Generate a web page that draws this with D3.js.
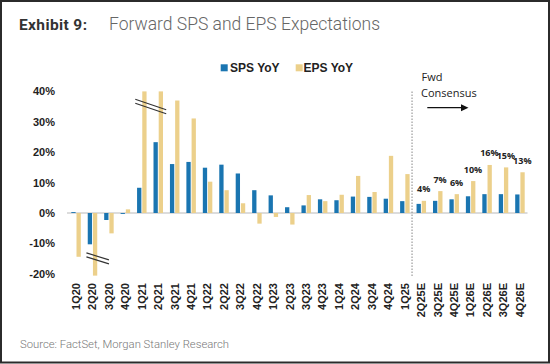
<!DOCTYPE html>
<html><head><meta charset="utf-8">
<script src="https://cdn.jsdelivr.net/npm/d3@7"></script>
<style>body{margin:0;background:#fff}svg{display:block}</style>
</head><body>
<svg id="c" width="550" height="364"></svg>
<script>
const categories = ["1Q20","2Q20","3Q20","4Q20","1Q21","2Q21","3Q21","4Q21","1Q22","2Q22","3Q22","4Q22","1Q23","2Q23","3Q23","4Q23","1Q24","2Q24","3Q24","4Q24","1Q25","2Q25E","3Q25E","4Q25E","1Q26E","2Q26E","3Q26E","4Q26E"];
const spsYoY = [0.3,-10.3,-2.3,-0.3,8.3,23.3,16.1,16.8,14.9,15.9,13.0,7.5,5.8,1.9,2.5,4.5,4.2,5.4,5.3,4.7,3.9,3.0,4.0,4.5,5.5,6.2,6.2,6.1];
const epsYoY = [-14.4,-20.6,-6.7,1.2,40,40,37.0,31.1,10.3,7.5,3.2,-3.5,-1.3,-3.8,5.9,3.9,6.0,12.2,6.9,18.8,12.8,4.0,7.2,6.2,10.5,15.8,15.0,13.4];
const fwdLabels = ["","","","","","","","","","","","","","","","","","","","","","4%","7%","6%","10%","16%","15%","13%"];
const yTicks = [-20,-10,0,10,20,30,40];
const seriesNames = ["SPS YoY","EPS YoY"];
const colors = ["#1a75b1","#ecd08b"];

const svg = d3.select("#c");
// frame
svg.append("rect").attr("x",1).attr("y",1).attr("width",548).attr("height",361.5)
  .attr("fill","none").attr("stroke","#2b2b2b").attr("stroke-width",2);

// title
svg.append("text").attr("x",19).attr("y",30).attr("font-family","Roboto").attr("font-weight","bold")
  .attr("font-size",15.5).attr("fill","#333").attr("textLength",68).text("Exhibit 9:");
svg.append("text").attr("x",109).attr("y",30).attr("font-family","Roboto").attr("font-weight",300)
  .attr("font-size",17.5).attr("fill","#666").text("Forward SPS and EPS Expectations");

const x = d3.scalePoint().domain(categories).range([76, 519.9]);
const y = d3.scaleLinear().domain([-20,40]).range([273.8, 91.4]);
const bw = 4.3;

// zero line
svg.append("line").attr("x1",67).attr("x2",527.5).attr("y1",y(0)).attr("y2",y(0))
  .attr("stroke","#d0d0d0").attr("stroke-width",1.5);

// y axis
const yAxis = d3.axisLeft(y).tickValues(yTicks).tickFormat(d=>d+"%").tickSize(0).tickPadding(0);
const ga = svg.append("g").attr("transform","translate(55,0)").call(yAxis);
ga.select(".domain").remove();
ga.selectAll("text").attr("font-family","Liberation Sans, Arial").attr("font-weight","bold")
  .attr("font-size",11).attr("fill","#222");

// bars
const g = svg.append("g");
g.selectAll("rect.sps").data(categories).join("rect").attr("class","sps")
  .attr("x",d=>x(d)-4.7).attr("width",bw)
  .attr("y",(d,i)=>y(Math.max(0,spsYoY[i])))
  .attr("height",(d,i)=>Math.abs(y(spsYoY[i])-y(0)))
  .attr("fill",colors[0]);
g.selectAll("rect.eps").data(categories).join("rect").attr("class","eps")
  .attr("x",d=>x(d)+0.5).attr("width",bw)
  .attr("y",(d,i)=>y(Math.max(0,epsYoY[i])))
  .attr("height",(d,i)=>Math.abs(y(epsYoY[i])-y(0)))
  .attr("fill",colors[1]);

// break marks
function brk(x1,y1,x2,y2){
  [0,4].forEach(o=>{
    svg.append("line").attr("x1",x1).attr("y1",y1+o).attr("x2",x2).attr("y2",y2+o)
      .attr("stroke","#333").attr("stroke-width",1.1);
  });
}
brk(x("1Q21")-6.5, y(30)-22.5, x("2Q21")+8, y(30)-12);
brk(x("2Q20")-6, y(-10)+9.5, x("2Q20")+16.5, y(-10)+16.5);

// x labels
const gx = svg.append("g");
gx.selectAll("text").data(categories).join("text")
  .attr("transform",d=>`translate(${x(d)},283) rotate(-90)`)
  .attr("text-anchor","end").attr("dy","0.35em")
  .attr("font-family","Liberation Sans, Arial").attr("font-weight","bold")
  .attr("font-size",11).attr("fill","#222").text(d=>d);

// divider
const divX = (x("1Q25")+x("2Q25E"))/2 - 1;
svg.append("line").attr("x1",divX).attr("x2",divX).attr("y1",91.5).attr("y2",277.5)
  .attr("stroke","#888").attr("stroke-width",1).attr("stroke-dasharray","1.5,1.5");

// forward labels
svg.append("g").selectAll("text").data(categories).join("text")
  .attr("x",d=>x(d)+2.4).attr("y",(d,i)=>y(epsYoY[i])-8.5)
  .attr("text-anchor","middle").attr("font-family","Open Sans").attr("font-weight","bold")
  .attr("font-size",9).attr("fill","#222").text((d,i)=>fwdLabels[i]);

// Fwd Consensus annotation
svg.append("text").attr("x",421.5).attr("y",80.5).attr("font-family","Open Sans").attr("font-size",11)
  .attr("fill","#222").text("Fwd");
svg.append("text").attr("x",421).attr("y",96.5).attr("font-family","Open Sans").attr("font-size",11)
  .attr("fill","#222").text("Consensus");
svg.append("line").attr("x1",427.3).attr("x2",462).attr("y1",107.7).attr("y2",107.7)
  .attr("stroke","#111").attr("stroke-width",1.2);
svg.append("path").attr("d","M461,104.2 L468.5,107.7 L461,111.2 Z").attr("fill","#111");

// legend
const lg = svg.append("g");
[[220.7,230],[295.7,303.5]].forEach((p,i)=>{
  lg.append("rect").attr("x",p[0]).attr("y",64.3).attr("width",7).attr("height",7).attr("fill",colors[i]);
  lg.append("text").attr("x",p[1]).attr("y",71.8).attr("font-family","Liberation Sans, Arial")
    .attr("font-weight","bold").attr("font-size",12).attr("fill","#222").text(seriesNames[i]);
});

// source
svg.append("text").attr("x",20).attr("y",348).attr("font-family","Roboto").attr("font-weight",300)
  .attr("font-size",11.3).attr("fill","#777").text("Source: FactSet, Morgan Stanley Research");
</script>
</body></html>
